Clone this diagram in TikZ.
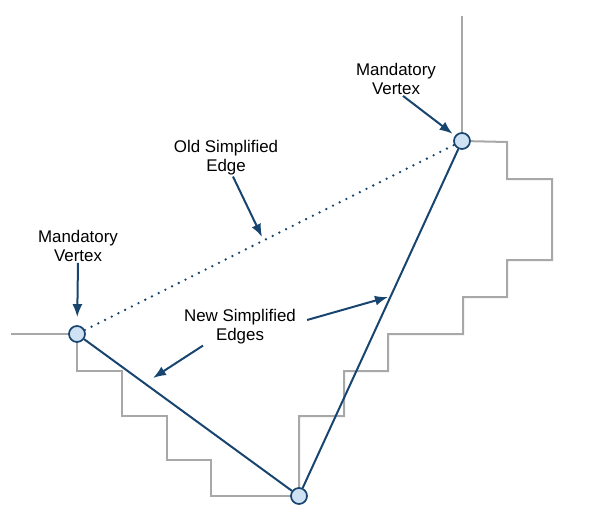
\documentclass[tikz,border=0pt]{standalone}
\usepackage{fontspec}
\setmainfont{Liberation Sans}
\definecolor{EdgeBlue}{HTML}{17456F}
\definecolor{VtxFill}{HTML}{CFE2F3}
\definecolor{StepGray}{HTML}{A8A8A8}
\usetikzlibrary{arrows.meta,backgrounds}
\tikzset{
  vtx/.style={circle,draw=EdgeBlue,fill=VtxFill,line width=1.7pt,minimum size=16pt,inner sep=0pt},
  stair/.style={draw=StepGray,line width=2pt},
  newedge/.style={draw=EdgeBlue,line width=2pt},
  oldedge/.style={draw=EdgeBlue,line width=2.6pt,line cap=round,dash pattern=on 0pt off 7.5pt},
  ptr/.style={-{Latex[length=13pt,width=10pt]},draw=EdgeBlue,line width=2pt},
  lbl/.style={font=\fontsize{16.9}{19}\selectfont,align=center,inner sep=1pt},
}

\begin{document}
\begin{tikzpicture}[x=1pt,y=-1pt]
\useasboundingbox (0,0) rectangle (606,527);

% vertices
\node[vtx] (mvl) at (77,334) {};
\node[vtx] (mvr) at (462,141) {};
\node[vtx] (bot) at (299,496) {};

% original boundary
\begin{scope}[on background layer]
\draw[stair] (11,334) -- (mvl.center);
\draw[stair] (mvl.center) |- (122,371) |- (167,416) |- (211,460) |- (bot.center);
\draw[stair] (bot.center) |- (344,416) |- (388,371) |- (463,334) |- (507,297)
  |- (552,260) -- (552,179) -| (507,142) -- (mvr.center);
\draw[stair] (mvr.center) -- (462,16);
\end{scope}

% edges
\draw[oldedge] (mvl) -- (mvr);
\draw[newedge] (mvl) -- (bot);
\draw[newedge] (bot) -- (mvr);

% labels
\node[lbl] (lblr) at (396,79) {Mandatory\\Vertex};
\node[lbl] (lblold) at (226,158) {Old Simplified\\Edge};
\node[lbl] (lbll) at (78,246) {Mandatory\\Vertex};
\node[lbl] (lblnew) at (240,327) {New Simplified\\Edges};

\coordinate (oldtip) at (262,237);
\coordinate (newtipl) at (153,378);
\coordinate (newtipr) at (388,297);

\draw[ptr,shorten >=3pt] ([xshift=7pt]lblr.south) -- (mvr);
\draw[ptr] ([xshift=7pt]lblold.south) -- (oldtip);
\draw[ptr,shorten >=8pt] (lbll.south) -- (mvl);
\draw[ptr] ([xshift=-37pt]lblnew.south) -- (newtipl);
\draw[ptr] ([xshift=10pt,yshift=7pt]lblnew.east) -- (newtipr);
\end{tikzpicture}
\end{document}
